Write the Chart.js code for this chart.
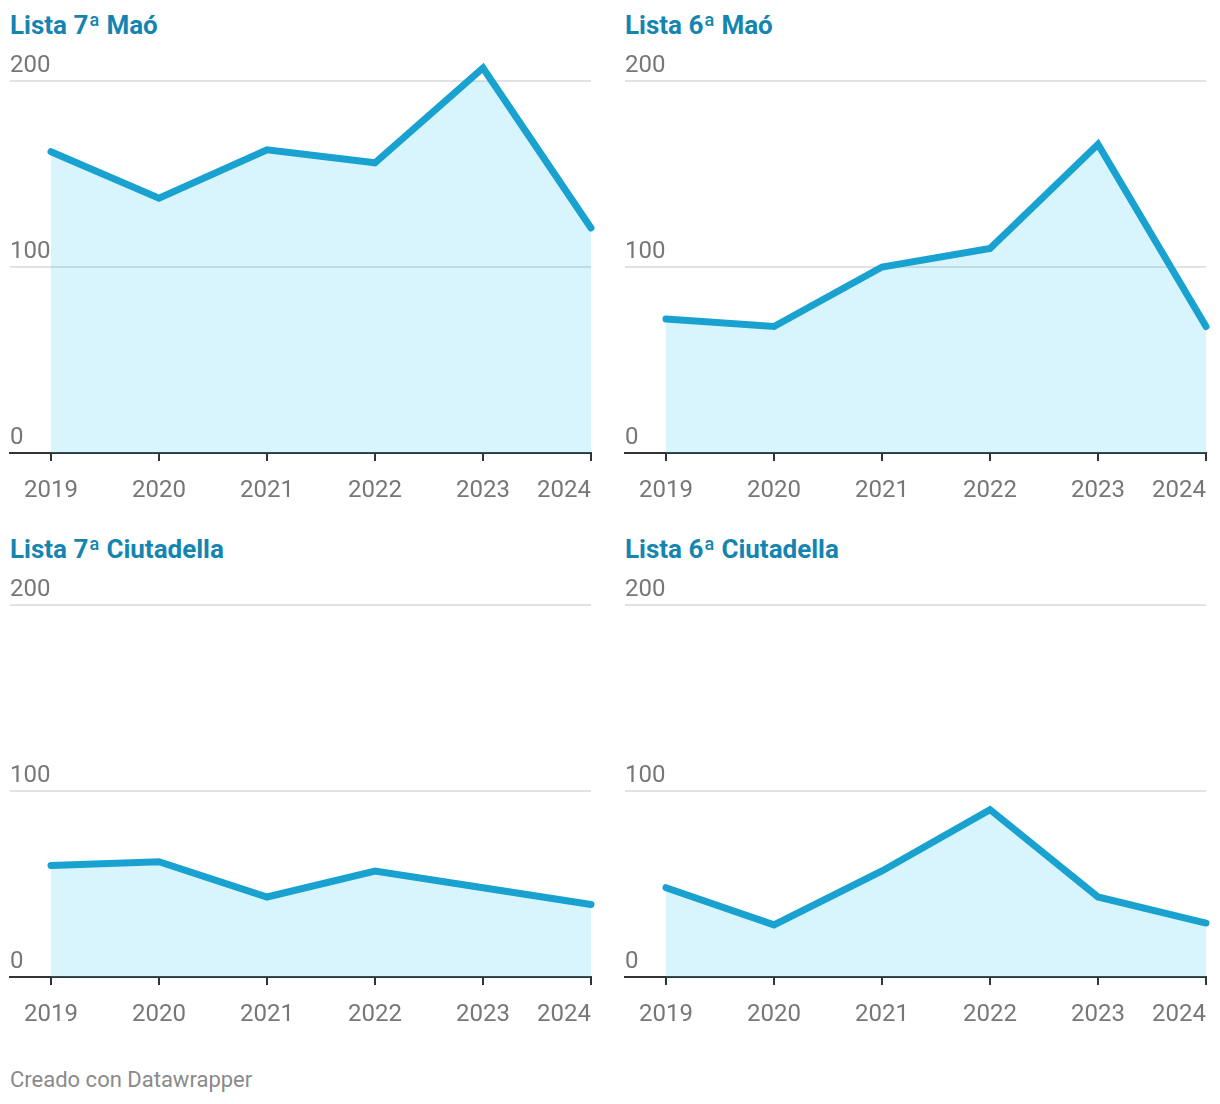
<!DOCTYPE html>
<html><head><meta charset="utf-8">
<script src="https://cdn.jsdelivr.net/npm/chart.js@4.4.1/dist/chart.umd.min.js"></script>
<style>
html,body{margin:0;padding:0;background:#fff;width:1220px;height:1104px;overflow:hidden;font-family:Roboto,sans-serif;}
.title{position:absolute;font-weight:bold;font-size:26px;font-family:Roboto,sans-serif;color:#1485b0;line-height:1;white-space:nowrap;}
canvas{position:absolute;}
#foot{position:absolute;left:10px;top:1069px;font-size:22px;font-family:Roboto,sans-serif;color:#8a8a8a;line-height:1;}
</style></head><body>
<div class="title" id="t0" style="left:10px;top:12px"></div>
<div class="title" id="t1" style="left:625px;top:12px"></div>
<div class="title" id="t2" style="left:10px;top:536px"></div>
<div class="title" id="t3" style="left:625px;top:536px"></div>
<canvas id="c0" width="610" height="499" style="left:0;top:40px"></canvas>
<canvas id="c1" width="610" height="499" style="left:615px;top:40px"></canvas>
<canvas id="c2" width="610" height="499" style="left:0;top:564px"></canvas>
<canvas id="c3" width="610" height="499" style="left:615px;top:564px"></canvas>
<div id="foot">Creado con Datawrapper</div>
<script>
const years = [2019, 2020, 2021, 2022, 2023, 2024];
const titles = ['Lista 7ª Maó', 'Lista 6ª Maó', 'Lista 7ª Ciutadella', 'Lista 6ª Ciutadella'];
const lista7Mao = [162, 137, 163, 156, 207, 121];
const lista6Mao = [72, 68, 100, 110, 166, 68];
const lista7Ciutadella = [60, 62, 43, 57, 48, 39];
const lista6Ciutadella = [48, 28, 57, 90, 43, 29];
const yTicks = [0, 100, 200];

const series = [lista7Mao, lista6Mao, lista7Ciutadella, lista6Ciutadella];
const LABEL_FONT = {family: 'Roboto', size: 24, lineHeight: 1.2};
const TICK_LEN = 8, TICK_PAD = 16;

const lastLabelPlugin = {
  id: 'lastLabel',
  afterDraw(chart) {
    const xs = chart.scales.x;
    const ctx = chart.ctx;
    const last = years[years.length - 1];
    ctx.save();
    ctx.font = '24px Roboto';
    ctx.fillStyle = '#777';
    ctx.textAlign = 'right';
    ctx.textBaseline = 'middle';
    ctx.fillText(String(last), xs.getPixelForValue(last), xs.top + TICK_LEN + TICK_PAD + LABEL_FONT.size * LABEL_FONT.lineHeight / 2);
    ctx.restore();
  }
};

function make(i) {
  document.getElementById('t' + i).textContent = titles[i];
  const el = document.getElementById('c' + i);
  const rightPad = el.width - 591;
  new Chart(el, {
    type: 'line',
    data: {
      datasets: [{
        data: years.map((y, k) => ({x: y, y: series[i][k]})),
        borderColor: '#19a2cf',
        borderWidth: 7,
        borderCapStyle: 'round',
        borderJoinStyle: 'miter',
        backgroundColor: 'rgba(60,205,245,0.2)',
        fill: 'origin',
        pointRadius: 0,
        pointHoverRadius: 0,
        tension: 0,
        clip: false
      }]
    },
    options: {
      responsive: false,
      animation: false,
      devicePixelRatio: 1,
      layout: {padding: {left: 10, right: rightPad, top: 41, bottom: 17.2}},
      plugins: {legend: {display: false}, tooltip: {enabled: false}},
      scales: {
        x: {
          type: 'linear',
          min: years[0] - 41 / 108,
          max: years[years.length - 1],
          afterBuildTicks: s => { s.ticks = years.map(v => ({value: v})); },
          grid: {display: true, drawOnChartArea: false, drawTicks: true, tickLength: TICK_LEN, color: '#333', lineWidth: 2},
          border: {display: true, color: '#333', width: 2},
          ticks: {
            font: LABEL_FONT,
            color: '#777',
            padding: TICK_PAD,
            maxRotation: 0,
            autoSkip: false,
            callback: (v, idx) => idx === years.length - 1 ? '' : String(v)
          }
        },
        y: {
          min: 0,
          max: 200,
          afterBuildTicks: s => { s.ticks = yTicks.map(v => ({value: v})); },
          grid: {drawTicks: false, color: c => (c.tick && c.tick.value === 0) ? 'rgba(0,0,0,0)' : '#e2e2e2', lineWidth: 2},
          border: {display: false},
          ticks: {
            mirror: true,
            padding: 0,
            labelOffset: -15,
            font: LABEL_FONT,
            color: '#777'
          }
        }
      }
    },
    plugins: [lastLabelPlugin]
  });
}
for (let i = 0; i < 4; i++) make(i);
</script>
</body></html>
